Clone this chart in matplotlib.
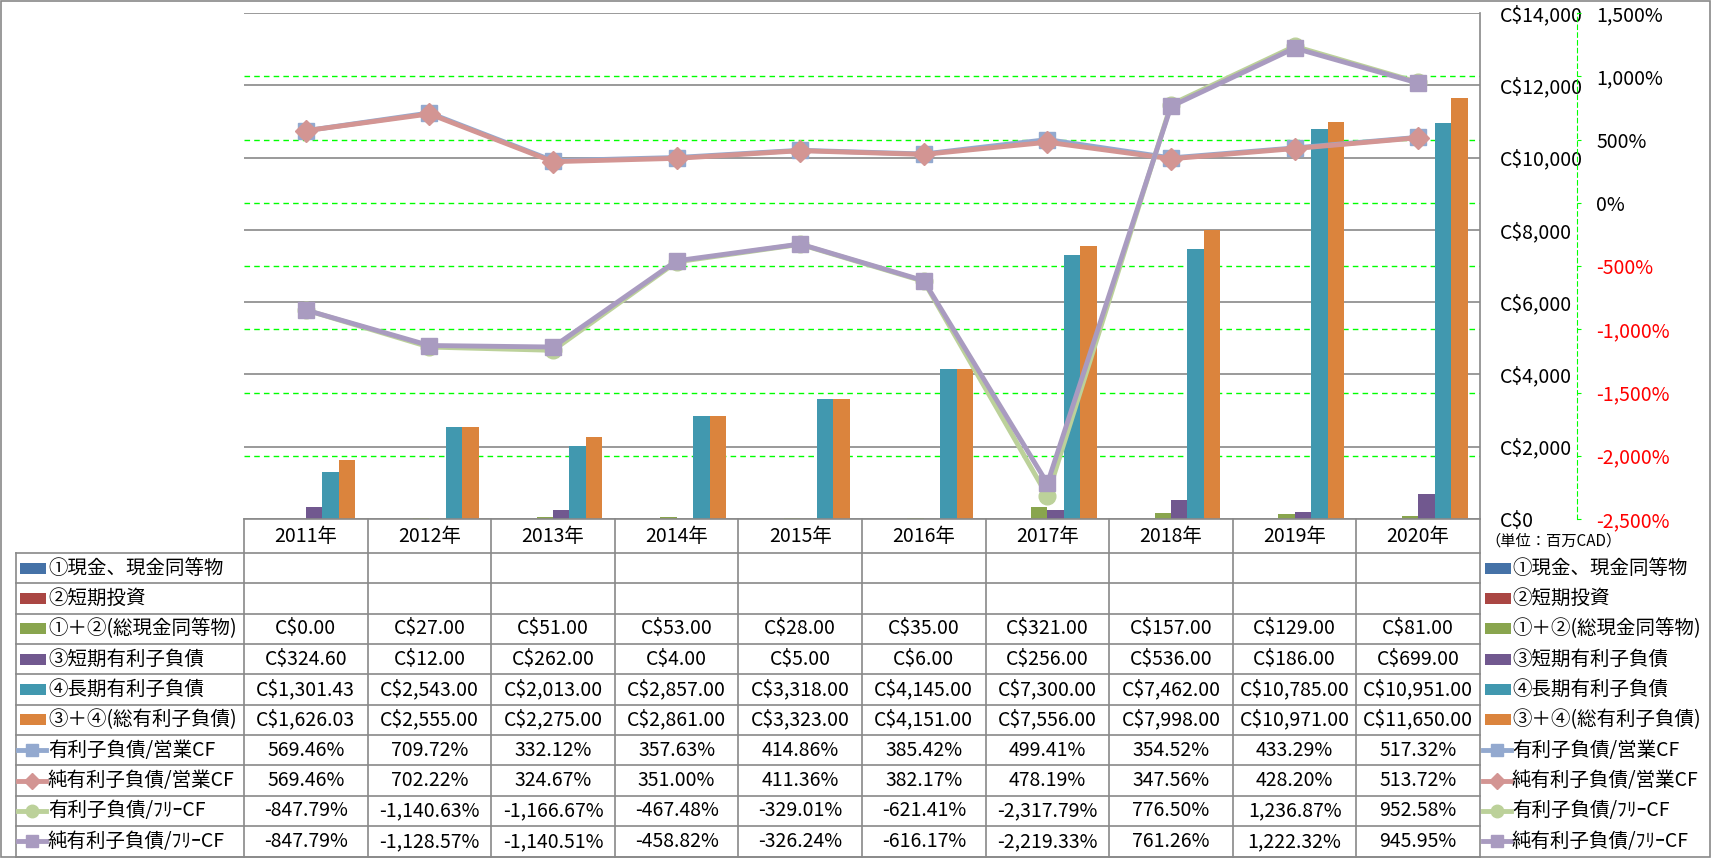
import matplotlib
matplotlib.use('Agg')
import numpy as np
import matplotlib.pyplot as plt
from matplotlib.lines import Line2D
from matplotlib.patches import Rectangle
from matplotlib.transforms import blended_transform_factory

# === Data ===
years = [2011, 2012, 2013, 2014, 2015, 2016, 2017, 2018, 2019, 2020]

cash = [None] * 10             # ①現金、現金同等物 (no data)
short_inv = [None] * 10        # ②短期投資 (no data)
cash_total = [0.00, 27.00, 51.00, 53.00, 28.00, 35.00, 321.00, 157.00, 129.00, 81.00]
short_debt = [324.60, 12.00, 262.00, 4.00, 5.00, 6.00, 256.00, 536.00, 186.00, 699.00]
long_debt = [1301.43, 2543.00, 2013.00, 2857.00, 3318.00, 4145.00, 7300.00, 7462.00, 10785.00, 10951.00]
total_debt = [1626.03, 2555.00, 2275.00, 2861.00, 3323.00, 4151.00, 7556.00, 7998.00, 10971.00, 11650.00]

debt_ocf = [569.46, 709.72, 332.12, 357.63, 414.86, 385.42, 499.41, 354.52, 433.29, 517.32]
net_debt_ocf = [569.46, 702.22, 324.67, 351.00, 411.36, 382.17, 478.19, 347.56, 428.20, 513.72]
debt_fcf = [-847.79, -1140.63, -1166.67, -467.48, -329.01, -621.41, -2317.79, 776.50, 1236.87, 952.58]
net_debt_fcf = [-847.79, -1128.57, -1140.51, -458.82, -326.24, -616.17, -2219.33, 761.26, 1222.32, 945.95]

bar_labels = ['①現金、現金同等物', '②短期投資', '①＋②(総現金同等物)',
              '③短期有利子負債', '④長期有利子負債', '③＋④(総有利子負債)']
line_labels = ['有利子負債/営業CF', '純有利子負債/営業CF', '有利子負債/ﾌﾘｰCF', '純有利子負債/ﾌﾘｰCF']

# === Style ===
plt.rcParams['font.family'] = ['Noto Sans CJK JP', 'DejaVu Sans']
plt.rcParams['font.size'] = 14

bar_colors = ['#4572A7', '#AA4643', '#89A54E', '#71588F', '#4198AF', '#DB843D']
line_styles = [('#93A9CF', 's', 12), ('#D39593', 'D', 11), ('#BCD19A', 'o', 12), ('#A99BC0', 's', 12)]
GRID = '#898989'
GREEN = '#00FF00'

W, H = 1711, 858
fig = plt.figure(figsize=(W / 100, H / 100), dpi=100)


def fx(x):
    return x / W


def fy(y):
    return 1 - y / H


PL, PR, PT, PB = 244, 1480, 13, 519
ax = fig.add_axes([fx(PL), fy(PB), fx(PR) - fx(PL), fy(PT) - fy(PB)])

bar_series = [cash, short_inv, cash_total, short_debt, long_debt, total_debt]
x = np.arange(len(years))
bw = 0.8 / 6
for i, (vals, c) in enumerate(zip(bar_series, bar_colors)):
    v = np.array([np.nan if a is None else a for a in vals], dtype=float)
    ax.bar(x + (i - 2.5) * bw, v, width=bw, color=c, zorder=2)

ax.set_xlim(-0.5, len(years) - 0.5)
ax.set_xticks(x, [f'{y}年' for y in years])
ax.tick_params(axis='x', length=0, pad=5)
ax.grid(axis='y', color=GRID, lw=1.2)
ax.set_axisbelow(True)
ax.spines['left'].set_visible(False)
ax.spines['top'].set_visible(False)
for s in ['right', 'bottom']:
    ax.spines[s].set_color(GRID)
    ax.spines[s].set_linewidth(1.2)

# secondary axis (percent)
ax2 = ax.twinx()
ax2.set_ylim(-2500, 1500)
pticks = list(range(-2500, 1501, 500))
ax2.set_yticks(pticks, [f'{v:,}%' for v in pticks])
for s in ['left', 'top', 'bottom']:
    ax2.spines[s].set_visible(False)
ax2.spines['right'].set_position(('outward', 69.8))
ax2.spines['right'].set_color(GREEN)
ax2.spines['right'].set_linestyle((0, (4, 3)))
ax2.tick_params(axis='y', color=GREEN, length=3, pad=11)

# primary money axis: labels on the right too (twinx moved them left)
ax.set_ylim(0, 14000)
ax.set_yticks(range(0, 14001, 2000), [f'C${v:,}' for v in range(0, 14001, 2000)])
ax.yaxis.tick_right()
ax.yaxis.set_label_position('right')
ax.tick_params(axis='y', length=0, pad=14.4, left=False, labelleft=False,
               right=True, labelright=True)

# green dashed gridlines of the percent axis, under the bars
trans = blended_transform_factory(ax.transAxes, ax2.transData)
for t in pticks[1:-1]:
    ax.add_line(Line2D([0, 1], [t, t], transform=trans, color=GREEN,
                       ls=(0, (4, 3)), lw=1, zorder=1.5))
ax.set_ylim(0, 14000)

line_series = [debt_ocf, net_debt_ocf, debt_fcf, net_debt_fcf]
for vals, (c, m, ms) in zip(line_series, line_styles):
    ax2.plot(x, vals, color=c, lw=3.5, marker=m, ms=ms, mfc=c, mec=c, zorder=3)
ax2.set_ylim(-2500, 1500)

fig.text(fx(1554), fy(541), '（単位：百万CAD）', fontsize=11, ha='center', va='center')

# === Data table ===
HEAD_B = 553
ROW_H = (856.5 - HEAD_B) / 10
LAB_L = 16
cols = [PL + i * (PR - PL) / len(years) for i in range(len(years) + 1)]


def hline(x0, x1, y):
    fig.add_artist(Line2D([fx(x0), fx(x1)], [fy(y), fy(y)], transform=fig.transFigure,
                          color=GRID, lw=1.2))


def vline(x, y0, y1):
    fig.add_artist(Line2D([fx(x), fx(x)], [fy(y0), fy(y1)], transform=fig.transFigure,
                          color=GRID, lw=1.2))


for c in cols:
    vline(c, PB, 856.5)
vline(LAB_L, HEAD_B, 856.5)
for k in range(11):
    hline(LAB_L, PR, HEAD_B + k * ROW_H)


def fmt_money(v):
    return '' if v is None else f'C${v:,.2f}'


def fmt_pct(v):
    return f'{v:,.2f}%'


rows = [[fmt_money(v) for v in s] for s in bar_series] + \
       [[fmt_pct(v) for v in s] for s in line_series]


def legend_key(xl, yc, k):
    if k < 6:
        fig.add_artist(Rectangle((fx(xl + 2), fy(yc + 5.5)), 26 / W, 11 / H,
                                 transform=fig.transFigure, color=bar_colors[k], lw=0))
    else:
        c, m, ms = line_styles[k - 6]
        fig.add_artist(Line2D([fx(xl), fx(xl + 28)], [fy(yc), fy(yc)],
                              transform=fig.transFigure, color=c, lw=3.5))
        fig.add_artist(Line2D([fx(xl + 14)], [fy(yc)], transform=fig.transFigure,
                              marker=m, ms=ms - 3, mfc=c, mec=c, ls='none'))


labels = bar_labels + line_labels
for k in range(10):
    yc = HEAD_B + (k + 0.5) * ROW_H
    legend_key(18, yc, k)
    fig.text(fx(48), fy(yc), labels[k], ha='left', va='center')
    legend_key(1483, yc, k)
    fig.text(fx(1512), fy(yc), labels[k], ha='left', va='center')
    for j in range(len(years)):
        fig.text(fx((cols[j] + cols[j + 1]) / 2), fy(yc), rows[k][j], ha='center', va='center')

# outer frame
fig.add_artist(Rectangle((fx(1), fy(857)), 1709 / W, 856 / H, transform=fig.transFigure,
                         fill=False, ec=GRID, lw=1.2))

# negative percentages in red
fig.canvas.draw()
for lbl, v in zip(ax2.get_yticklabels(), pticks):
    lbl.set_color('#FF0000' if v < 0 else 'black')

fig.savefig('out.png', dpi=100)
